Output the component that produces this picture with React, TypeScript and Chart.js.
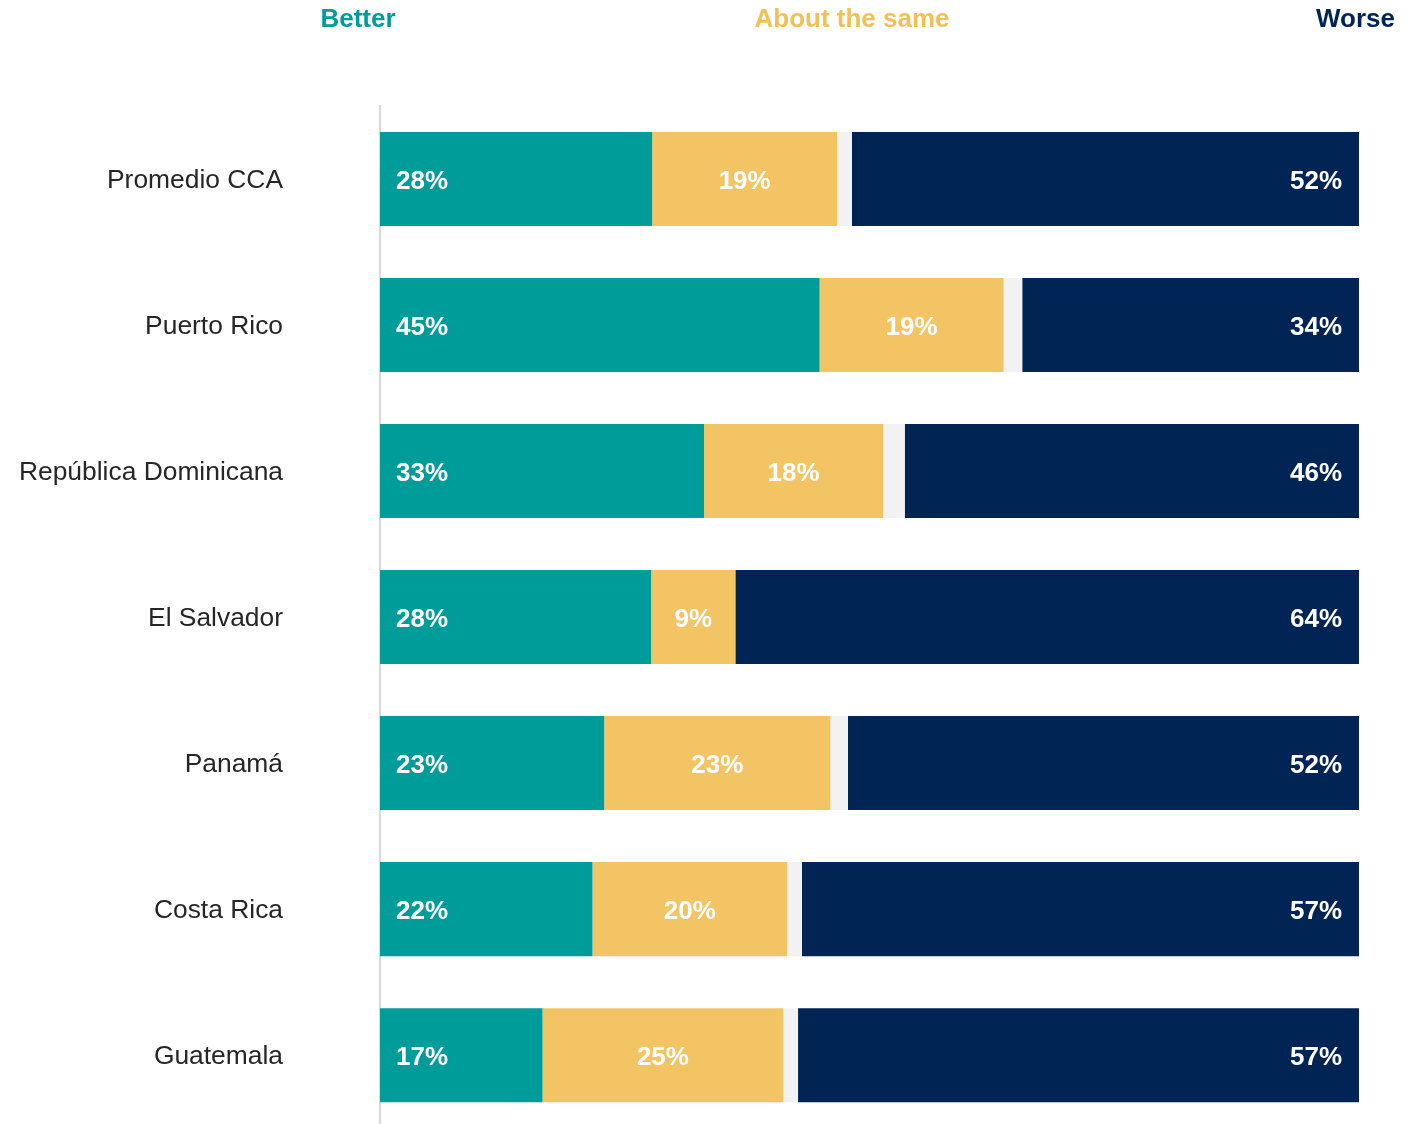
import React, { useEffect, useRef } from "react";
import { Chart, registerables } from "chart.js";

Chart.register(...registerables);

const categories = [
  "Promedio CCA",
  "Puerto Rico",
  "República Dominicana",
  "El Salvador",
  "Panamá",
  "Costa Rica",
  "Guatemala",
];
const better = [27.8, 44.9, 33.1, 27.7, 22.9, 21.7, 16.6];
const aboutSame = [18.9, 18.8, 18.3, 8.6, 23.1, 19.9, 24.6];
const dontKnow = [1.5, 1.9, 2.2, 0, 1.8, 1.5, 1.5];
const worse = [51.8, 34.4, 46.4, 63.7, 52.2, 56.9, 57.3];

const seriesNames = ["Better", "About the same", "No sabe", "Worse"];
const colors = ["#009c9a", "#f2c464", "#f2f2f2", "#002454"];

const FONT = "'Liberation Sans', Arial, Helvetica, sans-serif";

const overlayPlugin = {
  id: "overlay",
  afterDatasetsDraw(chart: any) {
    const ctx = chart.ctx;
    ctx.save();
    ctx.font = `bold 26px ${FONT}`;
    ctx.fillStyle = "#ffffff";
    ctx.textBaseline = "middle";
    [0, 1, 3].forEach((di) => {
      const meta = chart.getDatasetMeta(di);
      const data = chart.data.datasets[di].data as number[];
      meta.data.forEach((bar: any, i: number) => {
        const v = data[i];
        if (!v) return;
        const txt = Math.round(v) + "%";
        const left = Math.min(bar.base, bar.x);
        const right = Math.max(bar.base, bar.x);
        if (di === 0) {
          ctx.textAlign = "left";
          ctx.fillText(txt, left + 16, bar.y + 3);
        } else if (di === 1) {
          ctx.textAlign = "center";
          ctx.fillText(txt, (left + right) / 2, bar.y + 3);
        } else {
          ctx.textAlign = "right";
          ctx.fillText(txt, right - 17, bar.y + 3);
        }
      });
    });
    ctx.textBaseline = "alphabetic";
    ctx.font = `bold 26px ${FONT}`;
    ctx.textAlign = "center";
    ctx.fillStyle = colors[0];
    ctx.fillText(seriesNames[0], 358, 27);
    ctx.fillStyle = "#f2c057";
    ctx.fillText(seriesNames[1], 852, 27);
    ctx.textAlign = "right";
    ctx.fillStyle = colors[3];
    ctx.fillText(seriesNames[3], 1395, 27);
    ctx.restore();
  },
};

export default function App() {
  const ref = useRef<HTMLCanvasElement>(null);
  useEffect(() => {
    if (!ref.current) return;
    const datasets = [better, aboutSame, dontKnow, worse].map((d, i) => ({
      label: seriesNames[i],
      data: d,
      backgroundColor: colors[i],
      borderWidth: 0,
      barPercentage: 0.644,
      categoryPercentage: 1,
    }));
    const chart = new Chart(ref.current, {
      type: "bar",
      data: { labels: categories, datasets },
      options: {
        indexAxis: "y",
        responsive: true,
        maintainAspectRatio: false,
        animation: false,
        devicePixelRatio: 1,
        layout: { padding: { left: 0, right: 48, top: 106, bottom: 0 } },
        plugins: { legend: { display: false }, tooltip: { enabled: false } },
        scales: {
          x: { stacked: true, min: 0, max: 100, display: false },
          y: {
            stacked: true,
            afterFit: (scale: any) => {
              scale.width = 380;
            },
            grid: { display: false, drawTicks: true, tickLength: 97 },
            border: { display: true, color: "#d9d9d9", width: 2 },
            ticks: {
              padding: 0,
              labelOffset: 2,
              color: "#262626",
              font: { family: FONT, size: 26.4 },
            },
          },
        },
      },
      plugins: [overlayPlugin],
    } as any);
    return () => chart.destroy();
  }, []);
  return (
    <div
      style={{
        position: "absolute",
        top: 0,
        left: 0,
        width: 1407,
        height: 1124,
        overflow: "hidden",
        background: "#fff",
      }}
    >
      <div style={{ position: "relative", width: 1407, height: 1144 }}>
        <canvas ref={ref} />
      </div>
    </div>
  );
}
